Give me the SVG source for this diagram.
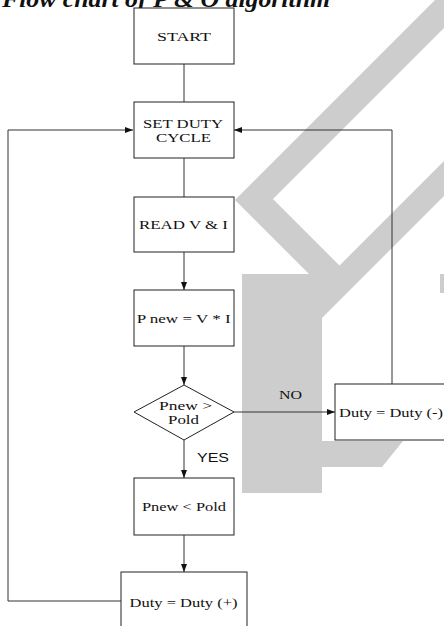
<svg xmlns="http://www.w3.org/2000/svg" width="444" height="626" viewBox="0 0 444 626">
<style>
.box{fill:#fff;stroke:#222;stroke-width:1}
.t{font-family:"Liberation Serif","Times New Roman",serif;font-size:13.5px;fill:#111;text-anchor:middle}
.s{font-family:"Liberation Sans",Arial,sans-serif;font-size:13.5px;fill:#111;text-anchor:middle}
.c{fill:none;stroke:#333;stroke-width:1}
.wm{fill:#cdcdcd}
</style>
<defs>
<marker id="ah" markerWidth="8" markerHeight="6" refX="8" refY="3" orient="auto" markerUnits="userSpaceOnUse">
<path d="M0,0 L8,3 L0,6 z" fill="#111"/>
</marker>
</defs>
<rect width="444" height="626" fill="#fff"/>
<g id="watermark">
<polygon class="wm" points="435,0 235,200 309,274 242,274 242,493 322,493 322,467 382,467 403,441 322,441 322,318 500,140 520,85 339.5,265.5 273,199 472,0"/>
<rect class="wm" x="440" y="274" width="4" height="19"/>
</g>
<text x="2" y="7" font-family="'Liberation Serif','Times New Roman',serif" font-size="24" font-weight="bold" font-style="italic" fill="#111" textLength="328" lengthAdjust="spacingAndGlyphs">Flow chart of P &amp; O algorithm</text>
<g id="connectors">
<path class="c" d="M184,64 V102"/>
<path class="c" d="M184,158 V197"/>
<path class="c" d="M184,252 V290" marker-end="url(#ah)"/>
<path class="c" d="M184,346 V385" marker-end="url(#ah)"/>
<path class="c" d="M184,440 V478" marker-end="url(#ah)"/>
<path class="c" d="M184,535 V572" marker-end="url(#ah)"/>
<path class="c" d="M121,601 H8 V130 H133" marker-end="url(#ah)"/>
<path class="c" d="M234,412 H335" stroke="#111" marker-end="url(#ah)"/>
<path class="c" d="M392,384 V130 H234" stroke="#111" marker-end="url(#ah)"/>
<text class="t" x="290.5" y="398.5" textLength="23" lengthAdjust="spacingAndGlyphs">NO</text>
<text class="s" x="213" y="462" textLength="32" lengthAdjust="spacingAndGlyphs">YES</text>
</g>
<g id="start">
<rect class="box" x="134" y="8" width="100" height="56"/>
<text class="t" x="184" y="40.5" textLength="54" lengthAdjust="spacingAndGlyphs">START</text>
</g>
<g id="setduty">
<rect class="box" x="134" y="102" width="100" height="56"/>
<text class="t" x="183" y="127.5" textLength="80" lengthAdjust="spacingAndGlyphs">SET DUTY</text>
<text class="t" x="183.5" y="141.5" textLength="55" lengthAdjust="spacingAndGlyphs">CYCLE</text>
</g>
<g id="read">
<rect class="box" x="134" y="197" width="100" height="55"/>
<text class="t" x="183.5" y="228.5" textLength="89" lengthAdjust="spacingAndGlyphs">READ V &amp; I</text>
</g>
<g id="pnew">
<rect class="box" x="134" y="290" width="100" height="56"/>
<text class="t" x="183.7" y="322.5" textLength="94" lengthAdjust="spacingAndGlyphs">P new = V * I</text>
</g>
<g id="decision">
<polygon class="box" points="184,385 234,412 184,440 134,412"/>
<text class="t" x="185.5" y="409.5" textLength="53" lengthAdjust="spacingAndGlyphs">Pnew &gt;</text>
<text class="t" x="183.5" y="423.5" textLength="31" lengthAdjust="spacingAndGlyphs">Pold</text>
</g>
<g id="compare">
<rect class="box" x="134" y="478" width="100" height="57"/>
<text class="t" x="184" y="510.5" textLength="84" lengthAdjust="spacingAndGlyphs">Pnew &lt; Pold</text>
</g>
<g id="dutyplus">
<rect class="box" x="121" y="572" width="126" height="70"/>
<text class="t" x="183.5" y="606.5" textLength="108" lengthAdjust="spacingAndGlyphs">Duty = Duty (+)</text>
</g>
<g id="dutyminus">
<rect class="box" x="335" y="384" width="120" height="56"/>
<text class="t" x="391" y="416.5" textLength="104" lengthAdjust="spacingAndGlyphs">Duty = Duty (-)</text>
</g>
</svg>
